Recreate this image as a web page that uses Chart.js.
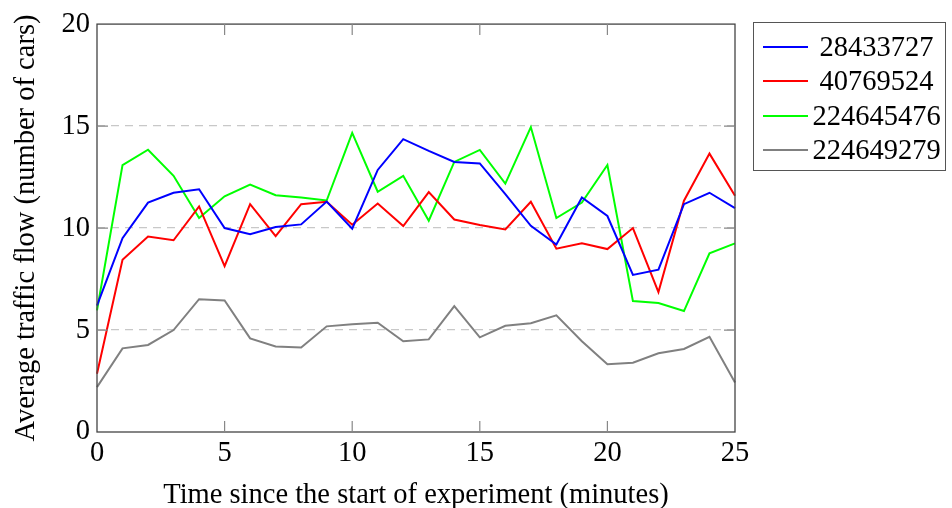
<!DOCTYPE html>
<html>
<head>
<meta charset="utf-8">
<script src="https://cdn.jsdelivr.net/npm/chart.js@4.4.1/dist/chart.umd.min.js"></script>
<style>
  html, body { margin: 0; padding: 0; background: #fff; }
  #wrap { position: relative; width: 952px; height: 508px; }
  #legend {
    position: absolute; left: 753px; top: 22px; width: 193px; height: 149px;
    border: 1px solid #555; box-sizing: border-box;
    font-family: "Liberation Serif", serif; font-size: 28.5px; color: #000;
  }
  .row { position: absolute; left: 0; width: 100%; height: 34px; }
  .row .swatch { position: absolute; left: 9px; width: 45px; top: 16px; height: 2px; }
  .row .txt { position: absolute; left: 54px; right: 0; text-align: center; line-height: 34px; }
</style>
</head>
<body>
<div id="wrap">
  <canvas id="myChart" width="952" height="508"></canvas>
  <div id="legend"></div>
</div>
<script>
const minutes = [0, 1, 2, 3, 4, 5, 6, 7, 8, 9, 10, 11, 12, 13, 14, 15, 16, 17, 18, 19, 20, 21, 22, 23, 24, 25];

const seriesNames = ['28433727', '40769524', '224645476', '224649279'];
const seriesColors = ['#0000ff', '#ff0000', '#00ff00', '#808080'];

const flowA = [6.2, 9.5, 11.25, 11.73, 11.9, 10.0, 9.7, 10.05, 10.18, 11.3, 9.97, 12.85, 14.36, 13.78, 13.24, 13.17, 11.66, 10.11, 9.19, 11.5, 10.59, 7.7, 7.96, 11.17, 11.73, 10.98];
const flowB = [2.86, 8.45, 9.58, 9.4, 11.06, 8.13, 11.17, 9.6, 11.17, 11.29, 10.16, 11.2, 10.1, 11.76, 10.42, 10.15, 9.93, 11.29, 8.99, 9.25, 8.97, 10.0, 6.86, 11.34, 13.65, 11.58];
const flowC = [5.96, 13.09, 13.84, 12.56, 10.49, 11.56, 12.13, 11.61, 11.5, 11.35, 14.67, 11.78, 12.56, 10.36, 13.24, 13.83, 12.18, 14.95, 10.49, 11.25, 13.09, 6.42, 6.32, 5.93, 8.76, 9.25];
const flowD = [2.2, 4.1, 4.27, 5.0, 6.51, 6.45, 4.59, 4.19, 4.14, 5.18, 5.28, 5.36, 4.45, 4.54, 6.17, 4.64, 5.21, 5.33, 5.72, 4.45, 3.32, 3.4, 3.86, 4.07, 4.67, 2.43];

const xTicks = [0, 5, 10, 15, 20, 25];
const yTicks = [0, 5, 10, 15, 20];

const allFlows = [flowA, flowB, flowC, flowD];
const serif = 'Liberation Serif';

// frame round the plot plus inward tick marks (pgfplots look)
const framePlugin = {
    id: 'frame',
    afterDatasetsDraw(chart) {
        const {ctx, chartArea: a, scales: {x, y}} = chart;
        ctx.save();
        ctx.strokeStyle = '#444';
        ctx.lineWidth = 1.3;
        ctx.strokeRect(a.left, a.top, a.right - a.left, a.bottom - a.top);
        ctx.strokeStyle = '#888';
        ctx.lineWidth = 1.2;
        ctx.beginPath();
        xTicks.slice(1, -1).forEach(v => {
            const px = x.getPixelForValue(v);
            ctx.moveTo(px, a.bottom); ctx.lineTo(px, a.bottom - 11);
            ctx.moveTo(px, a.top); ctx.lineTo(px, a.top + 11);
        });
        yTicks.slice(1, -1).forEach(v => {
            const py = y.getPixelForValue(v);
            ctx.moveTo(a.left, py); ctx.lineTo(a.left + 11, py);
            ctx.moveTo(a.right, py); ctx.lineTo(a.right - 11, py);
        });
        ctx.stroke();
        ctx.restore();
    }
};

const data = {
    datasets: allFlows.map((vals, i) => ({
        label: seriesNames[i],
        data: minutes.map((m, j) => ({x: m, y: vals[j]})),
        borderColor: seriesColors[i],
        backgroundColor: seriesColors[i],
        borderWidth: 2,
        pointRadius: 0,
        tension: 0,
        clip: false
    }))
};

const config = {
    type: 'line',
    data: data,
    options: {
        responsive: false,
        animation: false,
        layout: {padding: {left: 0, top: 22, right: 217, bottom: 0}},
        plugins: {legend: {display: false}, tooltip: {enabled: false}},
        scales: {
            x: {
                type: 'linear',
                min: 0,
                max: 25,
                afterFit: s => { s.height = 76; },
                afterBuildTicks: s => { s.ticks = xTicks.map(v => ({value: v})); },
                grid: {display: false, drawTicks: false},
                border: {display: false},
                ticks: {color: '#000', padding: 4, font: {family: serif, size: 28.5}},
                title: {
                    display: true,
                    text: 'Time since the start of experiment (minutes)',
                    color: '#000',
                    padding: {top: 0, bottom: 0},
                    font: {family: serif, size: 28.5, lineHeight: 0.9}
                }
            },
            y: {
                min: 0,
                max: 20,
                afterFit: s => { s.width = 97; },
                afterBuildTicks: s => { s.ticks = yTicks.map(v => ({value: v})); },
                grid: {
                    drawTicks: false,
                    lineWidth: 1.3,
                    color: c => (c.tick && (c.tick.value === 0 || c.tick.value === 20)) ? 'rgba(0,0,0,0)' : '#c8c8c8'
                },
                border: {display: false, dash: [8, 6]},
                ticks: {color: '#000', padding: 7, font: {family: serif, size: 28.5}},
                title: {
                    display: true,
                    text: 'Average traffic flow (number of cars)',
                    color: '#000',
                    padding: {top: 12, bottom: 0},
                    font: {family: serif, size: 28.5, lineHeight: 1}
                }
            }
        }
    },
    plugins: [framePlugin]
};

const chart = new Chart(document.getElementById('myChart'), config);

// legend box built from the same datasets
const legend = document.getElementById('legend');
chart.data.datasets.forEach((ds, i) => {
    const row = document.createElement('div');
    row.className = 'row';
    row.style.top = (7 + i * 34.3) + 'px';
    row.innerHTML = '<div class="swatch" style="background:' + ds.borderColor + '"></div><div class="txt">' + ds.label + '</div>';
    legend.appendChild(row);
});
</script>
</body>
</html>
